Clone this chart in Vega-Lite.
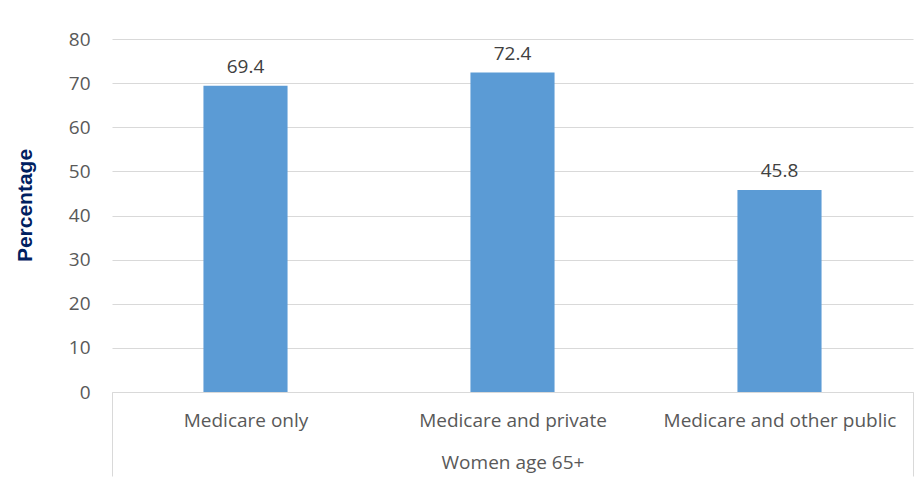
{
  "$schema": "https://vega.github.io/schema/vega-lite/v6.json",
  "width": 801,
  "height": 353,
  "autosize": "none",
  "padding": {"left": 112, "top": 39, "right": 7, "bottom": 98},
  "background": "white",
  "config": {
    "view": {"stroke": null},
    "font": "Open Sans"
  },
  "data": {
    "values": [
      {"category": "Medicare only", "value": 69.4},
      {"category": "Medicare and private", "value": 72.4},
      {"category": "Medicare and other public", "value": 45.8}
    ]
  },
  "encoding": {
    "x": {
      "field": "category",
      "type": "nominal",
      "sort": null,
      "scale": {"paddingInner": 0, "paddingOuter": 0},
      "axis": {
        "title": "Women age 65+",
        "titleFont": "Open Sans",
        "titleFontSize": 19,
        "titleFontWeight": "normal",
        "titleColor": "#595959",
        "titleBaseline": "middle",
        "titleY": 70,
        "labelAngle": 0,
        "labelLimit": 0,
        "labelFont": "Open Sans",
        "labelFontSize": 19,
        "labelColor": "#595959",
        "labelBaseline": "middle",
        "labelPadding": -56,
        "domainColor": "#d9d9d9",
        "domainWidth": 1,
        "tickColor": "#d9d9d9",
        "tickWidth": 1,
        "tickSize": 84,
        "tickBand": "extent",
        "tickOpacity": {
          "condition": {"test": "datum.value === 'Medicare and private' || (datum.value === 'Medicare only' && datum.index < 0.5)", "value": 0},
          "value": 1
        },
        "grid": false
      }
    },
    "y": {
      "field": "value",
      "type": "quantitative",
      "scale": {"domain": [0, 80], "nice": false},
      "axis": {
        "title": "Percentage",
        "titleFont": "Liberation Sans",
        "titleFontSize": 21,
        "titleFontWeight": "bold",
        "titleColor": "#002060",
        "titleX": -87,
        "titleY": 166,
        "titleBaseline": "middle",
        "titleAngle": -90,
        "values": [0, 10, 20, 30, 40, 50, 60, 70, 80],
        "labelFont": "Open Sans",
        "labelFontSize": 19,
        "labelColor": "#595959",
        "labelPadding": 22,
        "ticks": false,
        "domain": false,
        "grid": true,
        "gridColor": "#d9d9d9",
        "gridWidth": 1
      }
    }
  },
  "layer": [
    {
      "mark": {"type": "bar", "color": "#5B9BD5", "width": {"band": 0.315}}
    },
    {
      "mark": {"type": "text", "baseline": "bottom", "dy": -9, "fontSize": 19, "font": "Open Sans", "color": "#404040"},
      "encoding": {
        "text": {"field": "value", "type": "quantitative", "format": ".1f"}
      }
    }
  ]
}
